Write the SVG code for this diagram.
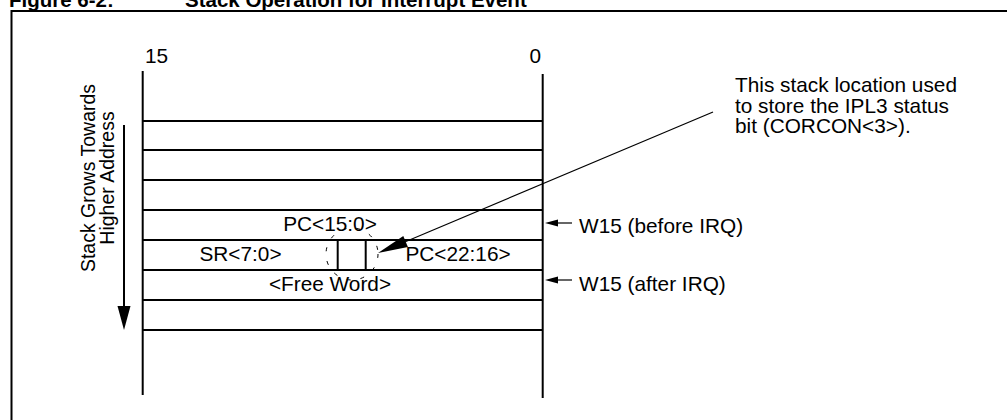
<svg xmlns="http://www.w3.org/2000/svg" width="1007" height="420" viewBox="0 0 1007 420">
  <style>
    text { font-family: "Liberation Sans", Arial, sans-serif; fill: #000; }
    .title { font-size: 20.5px; font-weight: bold; }
    .lbl { font-size: 20.8px; }
    .rot { font-size: 19.5px; }
    .mid { text-anchor: middle; }
    .frame { stroke: #000; stroke-width: 2; fill: none; }
    .wall { stroke: #000; stroke-width: 2; fill: none; }
    .thin { stroke: #000; stroke-width: 1.2; fill: none; }
    .ring { stroke: #000; stroke-width: 1; fill: none; stroke-dasharray: 4 10; }
  </style>

  <!-- caption and frame -->
  <g id="caption">
    <text class="title" x="9" y="7">Figure 6-2:</text>
    <text class="title" x="185" y="7">Stack Operation for Interrupt Event</text>
  </g>
  <g id="frame">
    <line class="frame" x1="11.5" y1="11" x2="1007" y2="11"/>
    <line class="frame" x1="11.5" y1="10" x2="11.5" y2="420"/>
  </g>

  <!-- bit numbering -->
  <g id="bit-labels">
    <text class="lbl" x="145" y="63">15</text>
    <text class="lbl" x="529.5" y="63">0</text>
  </g>

  <!-- growth direction -->
  <g id="growth">
    <text class="lbl rot mid" transform="translate(95,178) rotate(-90)">Stack Grows Towards</text>
    <text class="lbl rot mid" transform="translate(114,178) rotate(-90)">Higher Address</text>
    <line class="wall" x1="124" y1="125" x2="124" y2="310"/>
    <polygon points="117.5,306 130.5,306 124,330" fill="#000"/>
  </g>

  <!-- stack words -->
  <g id="stack">
    <line class="wall" x1="142.7" y1="71" x2="142.7" y2="395"/>
    <line class="wall" x1="542.7" y1="74" x2="542.7" y2="398"/>
    <line class="wall" x1="142" y1="121" x2="543" y2="121"/>
    <line class="wall" x1="142" y1="150" x2="543" y2="150"/>
    <line class="wall" x1="142" y1="180" x2="543" y2="180"/>
    <line class="wall" x1="142" y1="210" x2="543" y2="210"/>
    <line class="wall" x1="142" y1="240" x2="543" y2="240"/>
    <line class="wall" x1="142" y1="270" x2="543" y2="270"/>
    <line class="wall" x1="142" y1="300" x2="543" y2="300"/>
    <line class="wall" x1="142" y1="330" x2="543" y2="330"/>
  </g>

  <g id="word-pc-low">
    <text class="lbl mid" x="330" y="231">PC&lt;15:0&gt;</text>
  </g>
  <g id="word-sr-pc-high">
    <text class="lbl mid" x="240.5" y="261">SR&lt;7:0&gt;</text>
    <text class="lbl mid" x="458" y="261">PC&lt;22:16&gt;</text>
  </g>
  <g id="ipl3-bit">
    <line class="wall" x1="337.7" y1="240" x2="337.7" y2="270"/>
    <line class="wall" x1="365.7" y1="240" x2="365.7" y2="270"/>
    <circle class="ring" cx="352" cy="254" r="26"/>
  </g>
  <g id="word-free">
    <text class="lbl mid" x="330" y="291">&lt;Free Word&gt;</text>
  </g>

  <!-- annotations -->
  <g id="note">
    <text class="lbl" x="735" y="92">This stack location used</text>
    <text class="lbl" x="735" y="112.5">to store the IPL3 status</text>
    <text class="lbl" x="735" y="133">bit (CORCON&lt;3&gt;).</text>
  </g>
  <g id="w15-before">
    <text class="lbl" x="579" y="233">W15 (before IRQ)</text>
  </g>
  <g id="w15-after">
    <text class="lbl" x="579" y="291">W15 (after IRQ)</text>
  </g>

  <!-- connectors -->
  <g id="connectors">
    <line class="thin" x1="713" y1="112" x2="400" y2="244"/>
    <polygon points="378,253 407.9,246.9 403.3,235.9" fill="#000"/>
    <line class="thin" x1="556" y1="223" x2="572" y2="223"/>
    <polygon points="545,223 558,219.5 558,226.5" fill="#000"/>
    <line class="thin" x1="556" y1="280" x2="572" y2="280"/>
    <polygon points="545,280 558,276.5 558,283.5" fill="#000"/>
  </g>
</svg>
